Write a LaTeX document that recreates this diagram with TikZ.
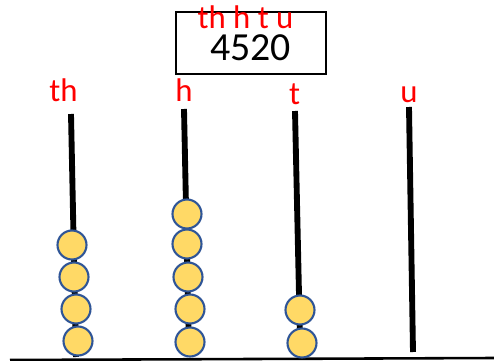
\documentclass[tikz,border=0pt]{standalone}
\usepackage{fontspec}
\setmainfont{Carlito}
\usepackage{tikz}
\definecolor{beadfill}{HTML}{FFD966}
\definecolor{beadline}{HTML}{2F5597}

\begin{document}
\begin{tikzpicture}[x=0.03cm,y=-0.03cm]
        \useasboundingbox (0,0) rectangle (494,361);
        % rods
        \begin{scope}[every path/.style={line width=5pt}]
                \coordinate (THtop) at (71,114);
                \coordinate (THbot) at (76,357);
                \coordinate (Htop) at (184,109);
                \coordinate (Hbot) at (189,352);
                \coordinate (Ttop) at (295,111);
                \coordinate (Tbot) at (300,340);
                \coordinate (Utop) at (409,107);
                \coordinate (Ubot) at (413,352);

                \draw (THtop) -- (THbot);
                \draw (Htop) -- (Hbot);
                \draw (Ttop) -- (Tbot);
                \draw (Utop) -- (Ubot);
        \end{scope}
        \coordinate (BaseL) at (10,360);
        \coordinate (BaseR) at (494,358);
        \draw[line width=2.2pt] (BaseL) -- (BaseR);

        % beads
        \begin{scope}[every node/.style={draw=beadline, fill=beadfill, circle, line width=1.8pt, minimum size=0.87cm, inner sep=0}]
                \node (TH1) at (78,341) {};
                \node (TH2) at (76,309) {};
                \node (TH3) at (74,277) {};
                \node (TH4) at (72,245) {};

                \node (H1) at (190,342) {};
                \node (H2) at (190,309) {};
                \node (H3) at (188,277) {};
                \node (H4) at (187,244) {};
                \node (H5) at (187,214) {};

                \node (T1) at (302,343) {};
                \node (T2) at (300,310) {};
        \end{scope}

        % labels
        \begin{scope}[every node/.style={text=red, font=\fontsize{28}{32}\selectfont, inner sep=0, anchor=base}]
                \node (THlab) at (63.5,101) {th};
                \node (Hlab) at (184,101) {h};
                \node (Tlab) at (294.5,104) {t};
                \node (Ulab) at (409,102) {u};
        \end{scope}

        % number box
        \node[draw, line width=1pt, minimum width=4.5cm, minimum height=1.86cm] (Box) at (251,43) {};
        \node[font=\fontsize{34}{38}\selectfont, anchor=base, inner sep=0] (Num) at (250.5,60) {4520};
        \node[text=red, font=\fontsize{28}{32}\selectfont, anchor=base, inner sep=0] (Places) at (245.5,28) {th h t u};
\end{tikzpicture}
\end{document}
